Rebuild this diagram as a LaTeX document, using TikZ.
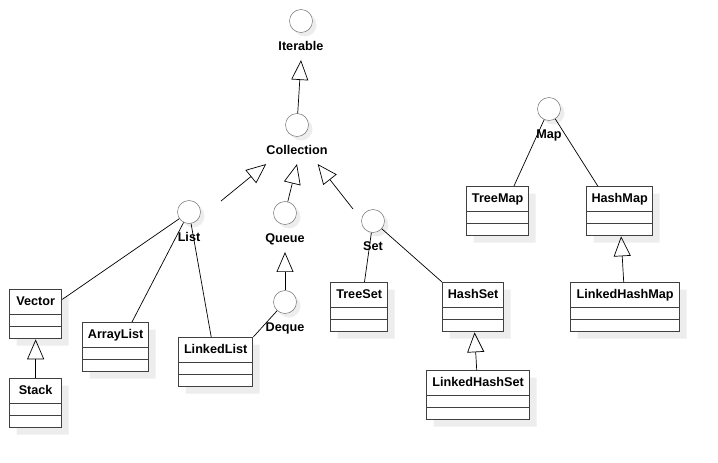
\documentclass[tikz,border=0pt]{standalone}
\usepackage{fontspec}
\setmainfont{Liberation Sans}
\usetikzlibrary{arrows.meta,positioning,shapes.multipart,shadows}
\newlength\upx
\setlength\upx{0.03cm}
\newcommand\headstrut{\rule[-5pt]{0pt}{16pt}}
\tikzset{
  ifacecircle/.style={circle, draw=black!60, fill=white, minimum size=23\upx, inner sep=0pt,
    drop shadow={shadow xshift=4\upx, shadow yshift=-4\upx, fill=black!7, opacity=1}},
  ifacelabel/.style={inner sep=0pt, font=\fontsize{10.8}{12}\selectfont\bfseries,
    text height=8.5pt, text depth=7.6pt},
  classbox/.style={rectangle split, rectangle split parts=3, draw=black!75, line width=1.1pt,
    fill=white, anchor=north west, inner xsep=0pt, inner ysep=2pt,
    rectangle split empty part height=2pt, rectangle split empty part depth=0pt,
    font=\fontsize{10.8}{12}\selectfont\bfseries,
    drop shadow={shadow xshift=7\upx, shadow yshift=-7\upx, fill=black!7, opacity=1}},
  realizeline/.style={draw=black, line width=0.6pt},
  extendsarrow/.style={-{Triangle[open, length=17pt, width=14.5pt]}, draw=black, line width=0.6pt},
}

\begin{document}
\begin{tikzpicture}[x=\upx, y=-\upx, node distance=8\upx]
  \useasboundingbox (0,0) rectangle (718,462);

  % Interfaces (lollipops with their names below)
  \node[ifacecircle] (iter) at (301,21) {};
  \node[ifacelabel, below=of iter] (iterlbl) {Iterable};
  \node[ifacecircle] (coll) at (297,125) {};
  \node[ifacelabel, below=of coll] (colllbl) {Collection};
  \node[ifacecircle] (list) at (189,212) {};
  \node[ifacelabel, below=of list] (listlbl) {List};
  \node[ifacecircle] (queue) at (285,213) {};
  \node[ifacelabel, below=of queue] (queuelbl) {Queue};
  \node[ifacecircle] (set) at (373,221) {};
  \node[ifacelabel, below=of set] (setlbl) {Set};
  \node[ifacecircle] (deque) at (285,302) {};
  \node[ifacelabel, below=of deque] (dequelbl) {Deque};
  \node[ifacecircle] (map) at (549,109) {};
  \node[ifacelabel, below=of map] (maplbl) {Map};

  % Classes: List side
  \node[classbox, minimum width=52\upx] (vector) at (9,289) {\headstrut Vector};
  \node[classbox, minimum width=52\upx] (stack) at (9,378) {\headstrut Stack};
  \node[classbox, minimum width=66\upx] (arraylist) at (82,322) {\headstrut ArrayList};
  \node[classbox, minimum width=74\upx] (linkedlist) at (178,337) {\headstrut LinkedList};

  % Classes: Set side
  \node[classbox, minimum width=57\upx] (treeset) at (330,282) {\headstrut TreeSet};
  \node[classbox, minimum width=61\upx] (hashset) at (442,282) {\headstrut HashSet};
  \node[classbox, minimum width=103\upx] (linkedhashset) at (426,370) {\headstrut LinkedHashSet};

  % Classes: Map side
  \node[classbox, minimum width=62\upx] (treemap) at (466,186) {\headstrut TreeMap};
  \node[classbox, minimum width=66\upx] (hashmap) at (586,186) {\headstrut HashMap};
  \node[classbox, minimum width=109\upx] (linkedhashmap) at (570,282) {\headstrut LinkedHashMap};

  % Free starts of the two slanted arrows into Collection
  \coordinate (listgo) at (221,201);
  \coordinate (setgo) at (353,209);

  % Arrows: interface inheritance
  \draw[extendsarrow] (coll) -- (iterlbl.south);
  \draw[extendsarrow] (listgo) -- (colllbl.south west);
  \draw[extendsarrow] (queue) -- (colllbl.south);
  \draw[extendsarrow] (setgo) -- (colllbl.-25);
  \draw[extendsarrow] (deque) -- (queuelbl.south);

  % Arrows: class inheritance
  \draw[extendsarrow] (stack) -- (vector);
  \draw[extendsarrow] (linkedhashset) -- (hashset);
  \draw[extendsarrow] (linkedhashmap) -- (hashmap);

  % Lines: implementations
  \draw[realizeline] (list) -- (vector.29);
  \draw[realizeline] (list) -- (arraylist.57);
  \draw[realizeline] (list) -- (linkedlist.100);
  \draw[realizeline] (deque) -- (linkedlist.north east);
  \draw[realizeline] (set) -- (treeset.78);
  \draw[realizeline] (set) -- (hashset.north west);
  \draw[realizeline] (map) -- (treemap.57);
  \draw[realizeline] (map) -- (hashmap.131);

\end{tikzpicture}
\end{document}
